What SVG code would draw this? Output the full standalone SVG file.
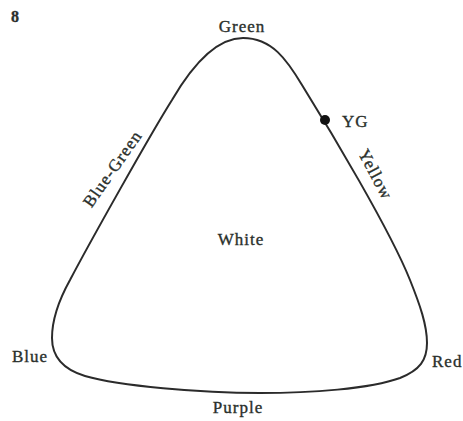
<svg xmlns="http://www.w3.org/2000/svg" width="463" height="421" viewBox="0 0 463 421">
<style>
.lbl{font-family:"Liberation Serif",serif;font-size:17px;fill:#2a302c;stroke:#2a302c;stroke-width:0.35;letter-spacing:1px}
.curve{fill:none;stroke:#2b2b2b;stroke-width:2}
</style>
<rect width="463" height="421" fill="#ffffff"/>
<g id="connectors">
<path class="curve" d="M 243 38 C 272 38 287 60 302 85 C 330 130 390 230 410 280 C 420 305 427 325 427 343 C 427 360 420 370 400 378 C 370 389 310 393 260 393 C 200 393 120 386 85 376 C 62 369 52 356 52 338 C 52 318 60 298 70 280 C 90 242 150 135 172 100 C 186 76 212 38 243 38 Z"/>
</g>
<g id="fig-number"><text class="lbl" x="11" y="22" font-weight="bold" style="font-size:16px">8</text></g>
<g id="green"><text class="lbl" x="242" y="32" text-anchor="middle">Green</text></g>
<g id="yg"><circle cx="325" cy="120" r="5" fill="#111"/><text class="lbl" x="342" y="127">YG</text></g>
<g id="yellow"><text class="lbl" x="0" y="0" text-anchor="middle" transform="translate(370.5,177) rotate(62)">Yellow</text></g>
<g id="blue-green"><text class="lbl" x="0" y="0" text-anchor="middle" transform="translate(117,172) rotate(-55)">Blue-Green</text></g>
<g id="white"><text class="lbl" x="241" y="245" text-anchor="middle">White</text></g>
<g id="blue"><text class="lbl" x="12" y="362">Blue</text></g>
<g id="red"><text class="lbl" x="432" y="367">Red</text></g>
<g id="purple"><text class="lbl" x="238" y="413" text-anchor="middle">Purple</text></g>
</svg>
